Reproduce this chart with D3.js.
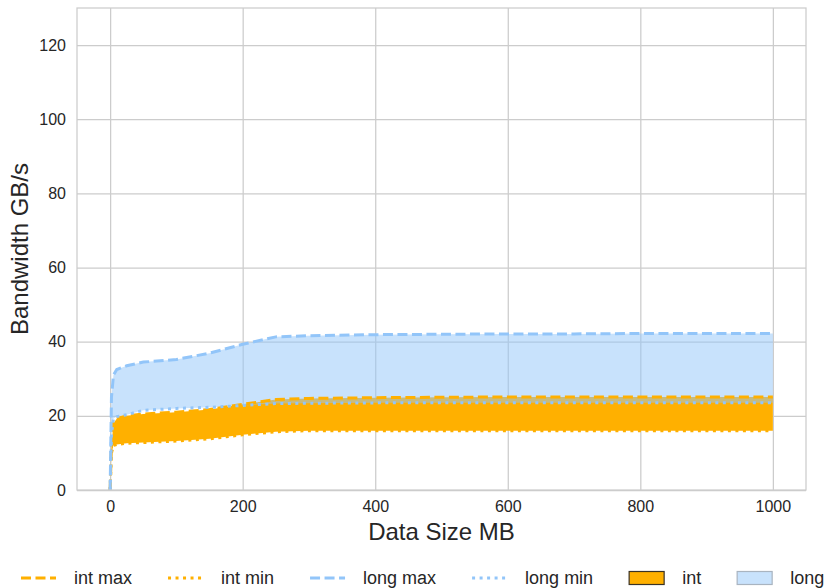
<!DOCTYPE html>
<html>
<head>
<meta charset="utf-8">
<script src="https://cdn.jsdelivr.net/npm/d3@7"></script>
<style>
  body { margin: 0; background: #fff; }
  text { font-family: "Liberation Sans", Arial, sans-serif; }
</style>
</head>
<body>
<script>
// data sizes (MB) and bandwidth (GB/s)
const sizes   = [0, 2, 5, 10, 25, 50, 100, 150, 200, 250, 300, 400, 500, 600, 700, 800, 900, 1000];
const intMax  = [0, 12, 18, 19.2, 20, 20.5, 21, 21.7, 23.1, 24.4, 24.7, 24.9, 25, 25.1, 25.1, 25.1, 25.1, 25.1];
const intMin  = [0, 10, 12, 12.3, 12.6, 12.8, 13.2, 13.8, 14.9, 15.7, 16, 16, 16, 16, 16, 16, 16, 16];
const longMax = [0, 25, 31, 32.5, 33.5, 34.5, 35.2, 36.9, 39.3, 41.3, 41.6, 41.9, 42, 42.1, 42.1, 42.2, 42.2, 42.2];
const longMin = [0, 15, 19.3, 19.8, 20.3, 21.5, 22, 22.3, 22.8, 23.3, 23.4, 23.5, 23.5, 23.5, 23.5, 23.5, 23.5, 23.5];

const xTicks = [0, 200, 400, 600, 800, 1000];
const yTicks = [0, 20, 40, 60, 80, 100, 120];
const legendLabels = ['int max', 'int min', 'long max', 'long min', 'int', 'long'];

const width = 830, height = 588;
const margin = { top: 8, right: 24, bottom: 98, left: 77 };

const intColor = '#ffb000';
const longColor = '#92c5f9';

const svg = d3.select('body').append('svg')
    .attr('width', width)
    .attr('height', height)
    .style('background-color', 'white');

const x = d3.scaleLinear()
    .domain([-50, 1050])
    .range([margin.left, width - margin.right]);

const y = d3.scaleLinear()
    .domain([0, 130])
    .range([height - margin.bottom, margin.top]);

// grid
svg.append('g')
    .attr('transform', `translate(0,${height - margin.bottom})`)
    .call(d3.axisBottom(x).tickValues(xTicks).tickSize(-(height - margin.top - margin.bottom)).tickFormat(''))
    .call(g => g.select('.domain').remove())
    .call(g => g.selectAll('line').attr('stroke', '#cccccc').attr('stroke-width', 1.25));

svg.append('g')
    .attr('transform', `translate(${margin.left},0)`)
    .call(d3.axisLeft(y).tickValues(yTicks).tickSize(-(width - margin.left - margin.right)).tickFormat(''))
    .call(g => g.select('.domain').remove())
    .call(g => g.selectAll('line').attr('stroke', '#cccccc').attr('stroke-width', 1.25));

const rows = sizes.map((s, i) => ({
    s, intMax: intMax[i], intMin: intMin[i], longMax: longMax[i], longMin: longMin[i]
}));

const area = (lo, hi) => d3.area()
    .x(d => x(d.s))
    .y0(d => y(d[lo]))
    .y1(d => y(d[hi]));

svg.append('path')
    .datum(rows)
    .attr('fill', intColor)
    .attr('d', area('intMin', 'intMax'));

svg.append('path')
    .datum(rows)
    .attr('fill', longColor)
    .attr('fill-opacity', 0.5)
    .attr('d', area('longMin', 'longMax'));

const lines = [
    { key: 'intMax', color: intColor, dash: '10,4.5' },
    { key: 'intMin', color: intColor, dash: '3,4.5' },
    { key: 'longMax', color: longColor, dash: '10,4.5' },
    { key: 'longMin', color: longColor, dash: '3,4.5' }
];

lines.forEach(l => {
    svg.append('path')
        .datum(rows)
        .attr('fill', 'none')
        .attr('stroke', l.color)
        .attr('stroke-width', 3)
        .attr('stroke-dasharray', l.dash)
        .attr('d', d3.line().x(d => x(d.s)).y(d => y(d[l.key])));
});

// frame
svg.append('rect')
    .attr('x', margin.left)
    .attr('y', margin.top)
    .attr('width', width - margin.left - margin.right)
    .attr('height', height - margin.top - margin.bottom)
    .attr('fill', 'none')
    .attr('stroke', '#cccccc')
    .attr('stroke-width', 1.25);

// axes labels
svg.append('g')
    .attr('transform', `translate(0,${height - margin.bottom})`)
    .call(d3.axisBottom(x).tickValues(xTicks).tickSize(0).tickPadding(10.5).tickFormat(d3.format('d')))
    .call(g => g.select('.domain').remove())
    .call(g => g.selectAll('text')
        .style('font-family', '"Liberation Sans", Arial, sans-serif')
        .style('font-size', '16px')
        .style('fill', '#262626'));

svg.append('g')
    .attr('transform', `translate(${margin.left},0)`)
    .call(d3.axisLeft(y).tickValues(yTicks).tickSize(0).tickPadding(11).tickFormat(d3.format('d')))
    .call(g => g.select('.domain').remove())
    .call(g => g.selectAll('text')
        .style('font-family', '"Liberation Sans", Arial, sans-serif')
        .style('font-size', '16px')
        .style('fill', '#262626'));

svg.append('text')
    .attr('x', (margin.left + width - margin.right) / 2)
    .attr('y', 540)
    .attr('text-anchor', 'middle')
    .style('font-size', '24px')
    .style('fill', '#262626')
    .text('Data Size MB');

svg.append('text')
    .attr('transform', `translate(28,${(margin.top + height - margin.bottom) / 2}) rotate(-90)`)
    .attr('text-anchor', 'middle')
    .style('font-size', '24px')
    .style('fill', '#262626')
    .text('Bandwidth GB/s');

// legend
const legendItems = [
    { label: legendLabels[0], type: 'line', color: intColor, dash: '10,4.5' },
    { label: legendLabels[1], type: 'line', color: intColor, dash: '3,4.5' },
    { label: legendLabels[2], type: 'line', color: longColor, dash: '10,4.5' },
    { label: legendLabels[3], type: 'line', color: longColor, dash: '3,4.5' },
    { label: legendLabels[4], type: 'patch', color: intColor, edge: '#3a3326', op: 1 },
    { label: legendLabels[5], type: 'patch', color: longColor, edge: '#a9b4c0', op: 0.5 }
];

const legend = svg.append('g');
const ly = 578;
let lx = 21;
legendItems.forEach(it => {
    if (it.type === 'line') {
        legend.append('line')
            .attr('x1', lx).attr('x2', lx + 35)
            .attr('y1', ly).attr('y2', ly)
            .attr('stroke', it.color)
            .attr('stroke-width', 3)
            .attr('stroke-dasharray', it.dash);
    } else {
        legend.append('rect')
            .attr('x', lx).attr('y', ly - 6.5)
            .attr('width', 35).attr('height', 13)
            .attr('fill', it.color)
            .attr('fill-opacity', it.op)
            .attr('stroke', it.edge)
            .attr('stroke-width', 1.2);
    }
    const t = legend.append('text')
        .attr('x', lx + 53)
        .attr('y', ly)
        .attr('dy', '0.35em')
        .style('font-size', '18px')
        .style('fill', '#262626')
        .text(it.label);
    lx += 53 + t.node().getComputedTextLength() + 36;
});
</script>
</body>
</html>
